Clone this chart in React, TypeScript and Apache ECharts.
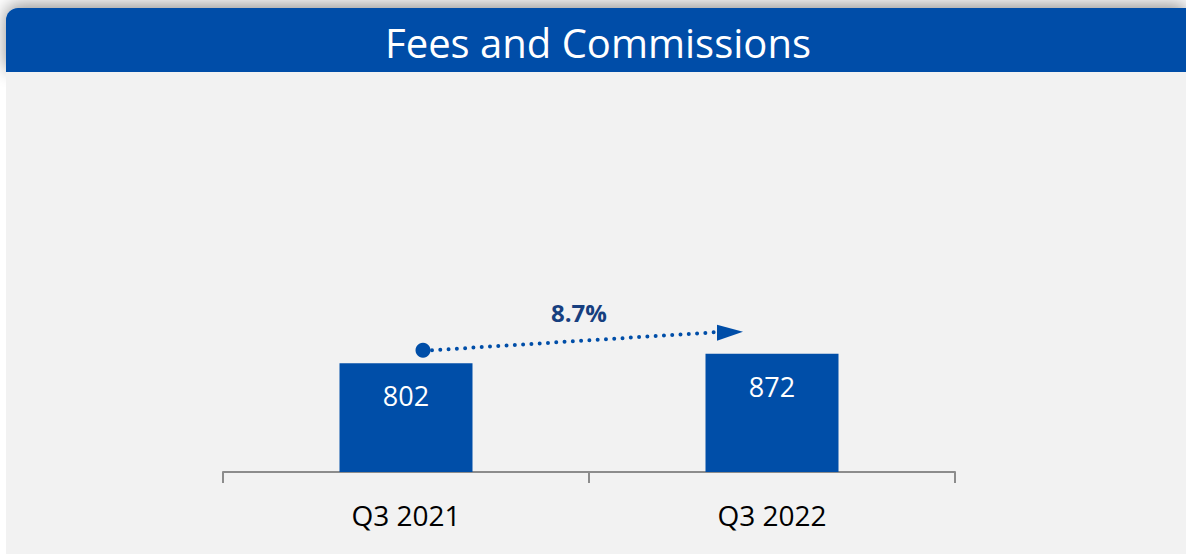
import React, { useEffect, useRef } from "react";
import * as echarts from "echarts";

const categories = ["Q3 2021", "Q3 2022"];
const values = [802, 872];
const growthLabel = "8.7%";
const titleText = "Fees and Commissions";

const BLUE = "#004ea8";

export default function App() {
  const ref = useRef<HTMLDivElement>(null);
  useEffect(() => {
    document.body.style.margin = "0";
    const chart = echarts.init(ref.current!, null, { renderer: "svg" });
    const option: any = {
      animation: false,
      backgroundColor: "#ffffff",
      grid: { left: 223, right: 231, top: 72, bottom: 82 },
      xAxis: {
        type: "category",
        data: categories,
        axisLine: { lineStyle: { color: "#8c8c8c", width: 2 } },
        axisTick: { show: true, length: 11, lineStyle: { color: "#8c8c8c", width: 2 } },
        axisLabel: {
          color: "#000000",
          fontSize: 28,
          fontFamily: "Open Sans",
          margin: 29,
        },
      },
      yAxis: { type: "value", min: 0, max: 2950, show: false, splitLine: { show: false } },
      graphic: [
        {
          type: "rect",
          z: -10,
          shape: { x: 6, y: 72, width: 1180, height: 482 },
          style: { fill: "#f2f2f2" },
        },
        {
          type: "rect",
          z: -5,
          shape: { x: 6, y: 8, width: 1180, height: 64, r: [12, 0, 0, 0] },
          style: {
            fill: BLUE,
            shadowBlur: 18,
            shadowColor: "rgba(0,0,0,0.45)",
            shadowOffsetY: -3,
          },
        },
        {
          type: "rect",
          z: -4,
          shape: { x: 6, y: 72, width: 1180, height: 24 },
          style: { fill: "#f2f2f2" },
        },
        {
          type: "text",
          z: 10,
          style: {
            text: titleText,
            x: 598,
            y: 42,
            align: "center",
            verticalAlign: "middle",
            fill: "#ffffff",
            fontSize: 40,
            fontFamily: "Open Sans",
          },
        },
      ],
      series: [
        {
          type: "bar",
          data: values,
          barWidth: 133,
          itemStyle: { color: BLUE },
          label: {
            show: true,
            position: "insideTop",
            distance: 19,
            color: "#ffffff",
            fontSize: 27,
            fontFamily: "Open Sans",
          },
        },
      ],
    };
    chart.setOption(option);

    const p0 = chart.convertToPixel({ seriesIndex: 0 }, [0, values[0]]) as number[];
    const p1 = chart.convertToPixel({ seriesIndex: 0 }, [1, values[1]]) as number[];
    const sx = p0[0] + 17;
    const sy = p0[1] - 13;
    const tipX = p1[0] - 29;
    const tipY = p1[1] - 22;
    const backX = tipX - 26;
    chart.setOption({
      graphic: [
        ...option.graphic,
        {
          type: "line",
          z: 20,
          shape: { x1: sx + 9, y1: sy, x2: backX - 2, y2: tipY + 0.5 },
          style: {
            stroke: BLUE,
            lineWidth: 4,
            lineDash: [0, 8.3],
            lineCap: "round",
          },
        },
        {
          type: "circle",
          z: 21,
          shape: { cx: sx, cy: sy, r: 7.5 },
          style: { fill: BLUE },
        },
        {
          type: "polygon",
          z: 21,
          shape: { points: [[backX, tipY - 7], [tipX, tipY], [backX, tipY + 9]] },
          style: { fill: BLUE },
        },
        {
          type: "text",
          z: 21,
          style: {
            text: growthLabel,
            x: (sx + tipX) / 2 - 4,
            y: 312,
            align: "center",
            verticalAlign: "middle",
            fill: "#173f7f",
            fontSize: 24,
            fontWeight: "bold",
            fontFamily: "Open Sans",
          },
        },
      ],
    });
    return () => chart.dispose();
  }, []);
  return (
    <div
      ref={ref}
      style={{ position: "fixed", left: 0, top: 0, width: 1186, height: 554 }}
    />
  );
}
